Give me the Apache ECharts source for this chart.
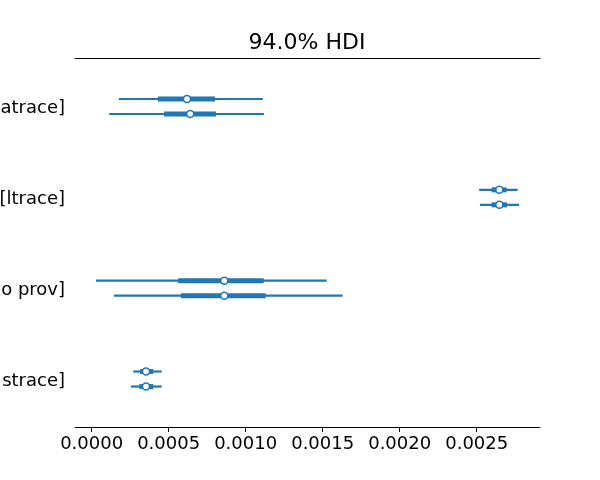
<!DOCTYPE html>
<html>
<head>
<meta charset="utf-8">
<script src="https://cdn.jsdelivr.net/npm/echarts@6/dist/echarts.min.js"></script>
<style>
  html, body { margin: 0; padding: 0; background: #fff; }
  #chart { width: 600px; height: 480px; }
</style>
</head>
<body>
<div id="chart"></div>
<script>
// rows top to bottom
var rowLabels = ['[atrace]', '[ltrace]', 'o prov]', 'strace]'];
var xTicks = [0, 0.0005, 0.001, 0.0015, 0.002, 0.0025];

// chain 0 (upper line of each pair)
var hdiLo0 = [0.000177, 0.002516, 0.000028, 0.000270];
var hdiHi0 = [0.001111, 0.002766, 0.001526, 0.000455];
var iqrLo0 = [0.000430, 0.002597, 0.000562, 0.000314];
var iqrHi0 = [0.000801, 0.002694, 0.001117, 0.000400];
var mid0   = [0.000619, 0.002647, 0.000861, 0.000353];

// chain 1 (lower line)
var hdiLo1 = [0.000114, 0.002521, 0.000145, 0.000255];
var hdiHi1 = [0.001119, 0.002775, 0.001630, 0.000455];
var iqrLo1 = [0.000470, 0.002597, 0.000580, 0.000310];
var iqrHi1 = [0.000807, 0.002697, 0.001130, 0.000400];
var mid1   = [0.000640, 0.002647, 0.000861, 0.000353];

var blue = '#1f77b4';
var off = 0.0826;  // vertical gap between chains

function rowY(i, chain) {
    return (rowLabels.length - 1 - i) + (chain === 0 ? off : -off);
}

var thinData = [], thickData = [], pointData = [];
for (var i = 0; i < rowLabels.length; i++) {
    thinData.push([hdiLo0[i], hdiHi0[i], rowY(i, 0)]);
    thinData.push([hdiLo1[i], hdiHi1[i], rowY(i, 1)]);
    thickData.push([iqrLo0[i], iqrHi0[i], rowY(i, 0)]);
    thickData.push([iqrLo1[i], iqrHi1[i], rowY(i, 1)]);
    pointData.push([mid0[i], rowY(i, 0)]);
    pointData.push([mid1[i], rowY(i, 1)]);
}

// label positions sit a hair below the row centre, like matplotlib's baseline
var yLabelPos = [0, 1, 2, 3].map(function (v) { return v - 0.025; });

function segment(width) {
    return function (params, api) {
        var p1 = api.coord([api.value(0), api.value(2)]);
        var p2 = api.coord([api.value(1), api.value(2)]);
        return {
            type: 'line',
            shape: { x1: p1[0], y1: p1[1], x2: p2[0], y2: p2[1] },
            style: { stroke: blue, lineWidth: width }
        };
    };
}

var chart = echarts.init(document.getElementById('chart'));
var font = 'DejaVu Sans';
var option = {
    animation: false,
    title: {
        text: '94.0% HDI',
        left: 302,
        top: 27,
        textAlign: 'center',
        textStyle: { fontFamily: font, fontSize: 22, fontWeight: 'normal', color: '#000' }
    },
    grid: { left: 75, right: 60, top: 58, bottom: 53, containLabel: false, outerBoundsMode: 'none' },
    xAxis: [{
        type: 'value',
        position: 'bottom',
        min: -0.000108,
        max: 0.002911,
        splitLine: { show: false },
        axisLine: { show: true, onZero: false, lineStyle: { color: '#000', width: 1 } },
        axisTick: { show: true, customValues: xTicks, length: 5, lineStyle: { color: '#000' } },
        axisLabel: {
            customValues: xTicks,
            fontFamily: font, fontSize: 18, color: '#000', margin: 8,
            formatter: function (v) { return v.toFixed(4); }
        }
    }, {
        type: 'value',
        position: 'top',
        min: -0.000108,
        max: 0.002911,
        splitLine: { show: false },
        axisLine: { show: true, onZero: false, lineStyle: { color: '#000', width: 1 } },
        axisTick: { show: false },
        axisLabel: { show: false }
    }],
    yAxis: {
        type: 'value',
        min: -0.528,
        max: 3.534,
        splitLine: { show: false },
        axisLine: { show: false },
        axisTick: { show: false },
        axisLabel: {
            customValues: yLabelPos,
            fontFamily: font, fontSize: 18, color: '#000', margin: 10,
            formatter: function (v) { return rowLabels[rowLabels.length - 1 - Math.round(v)]; }
        }
    },
    series: [
        { type: 'custom', renderItem: segment(2.2), data: thinData, encode: { x: [0, 1], y: 2 } },
        { type: 'custom', renderItem: segment(5), data: thickData, encode: { x: [0, 1], y: 2 } },
        {
            type: 'scatter',
            data: pointData,
            symbol: 'circle',
            symbolSize: 7,
            itemStyle: { color: '#fff', borderColor: blue, borderWidth: 1.5, opacity: 1 },
            z: 5
        }
    ]
};
chart.setOption(option);
</script>
</body>
</html>
